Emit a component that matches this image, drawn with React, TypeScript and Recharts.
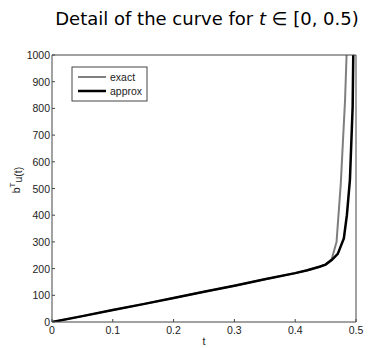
import { LineChart, Line, XAxis, YAxis } from 'recharts';

// t samples and b^T u(t) values
const exactT = [0, 0.05, 0.1, 0.15, 0.2, 0.25, 0.3, 0.35, 0.4, 0.42, 0.44, 0.45, 0.46, 0.468, 0.475, 0.482, 0.4845];
const exactV = [0, 22, 45, 67, 90, 113, 136, 160, 183, 194, 207, 216, 235, 300, 519, 831, 1000];

const approxT = [0, 0.05, 0.1, 0.15, 0.2, 0.25, 0.3, 0.35, 0.4, 0.42, 0.44, 0.45, 0.46, 0.47, 0.48, 0.485, 0.49, 0.4945, 0.4955];
const approxV = [0, 22, 45, 67, 90, 113, 136, 160, 183, 194, 207, 215, 232, 255, 313, 400, 532, 806, 1000];

const xTicks = [0, 0.1, 0.2, 0.3, 0.4, 0.5];
const yTicks = [0, 100, 200, 300, 400, 500, 600, 700, 800, 900, 1000];

const exactData = exactT.map((t, i) => ({ t, v: exactV[i] }));
const approxData = approxT.map((t, i) => ({ t, v: approxV[i] }));

const AXIS = '#444';
const TICK_FONT = { fontFamily: 'Liberation Sans, Arial, sans-serif', fontSize: 10.5, fill: '#222' };

// matlab-style inward ticks, labels drawn by hand
const BottomTick = ({ x, y, payload }: any) => (
  <g>
    <line x1={x} y1={y} x2={x} y2={y - 3} stroke={AXIS} />
    <text x={x} y={y + 12} textAnchor="middle" {...TICK_FONT}>{payload.value}</text>
  </g>
);
const TopTick = ({ x, y }: any) => <line x1={x} y1={y} x2={x} y2={y + 3} stroke={AXIS} />;
const LeftTick = ({ x, y, payload }: any) => (
  <g>
    <line x1={x} y1={y} x2={x + 3} y2={y} stroke={AXIS} />
    <text x={x - 2} y={y + 4} textAnchor="end" {...TICK_FONT}>{payload.value}</text>
  </g>
);
const RightTick = ({ x, y }: any) => <line x1={x} y1={y} x2={x - 3} y2={y} stroke={AXIS} />;

export default function App() {
  return (
    <div style={{ position: 'fixed', left: 0, top: 0, width: 373, height: 348, background: '#fff' }}>
      <div
        style={{
          position: 'absolute', left: 0, width: 414, top: 8, textAlign: 'center',
          fontFamily: 'DejaVu Sans, sans-serif', fontSize: 18, color: '#000', whiteSpace: 'nowrap',
        }}
      >
        Detail of the curve for <i>t</i> ∈ [0, 0.5)
      </div>
      <LineChart width={373} height={348} margin={{ top: 54, right: 16, bottom: 6, left: 22 }} style={{ position: 'absolute', left: 0, top: 0 }}>
        <XAxis
          xAxisId="b" dataKey="t" type="number" domain={[0, 0.5]} ticks={xTicks}
          height={20} tickSize={0} tickMargin={0} tickLine={false} axisLine={{ stroke: AXIS }} tick={<BottomTick />}
          allowDataOverflow
        />
        <XAxis
          xAxisId="top" orientation="top" dataKey="t" type="number" domain={[0, 0.5]} ticks={xTicks}
          height={1} tickSize={0} tickMargin={0} tickLine={false} axisLine={{ stroke: AXIS }} tick={<TopTick />}
        />
        <YAxis
          yAxisId="l" type="number" domain={[0, 1000]} ticks={yTicks} width={30} tickSize={0} tickMargin={0}
          tickLine={false} axisLine={{ stroke: AXIS }} tick={<LeftTick />} allowDataOverflow
        />
        <YAxis
          yAxisId="r" orientation="right" type="number" domain={[0, 1000]} ticks={yTicks} width={1}
          tickSize={0} tickMargin={0} tickLine={false} axisLine={{ stroke: AXIS }} tick={<RightTick />}
        />
        <Line
          xAxisId="b" yAxisId="l" data={exactData} dataKey="v" type="linear" stroke="#7f7f7f"
          strokeWidth={2} dot={false} isAnimationActive={false}
        />
        <Line
          xAxisId="b" yAxisId="l" data={approxData} dataKey="v" type="linear" stroke="#000"
          strokeWidth={2.5} dot={false} isAnimationActive={false}
        />
      </LineChart>
      <svg width={373} height={348} style={{ position: 'absolute', left: 0, top: 0, pointerEvents: 'none' }}>
        {/* legend */}
        <rect x={72} y={67} width={75} height={34} fill="#fff" stroke={AXIS} strokeWidth={1} />
        <line x1={78} y1={77} x2={106} y2={77} stroke="#7f7f7f" strokeWidth={2} />
        <line x1={78} y1={91} x2={106} y2={91} stroke="#000" strokeWidth={2.5} />
        <text x={110} y={81} {...TICK_FONT}>exact</text>
        <text x={110} y={95} {...TICK_FONT}>approx</text>
        {/* axis labels */}
        <text x={204} y={345} textAnchor="middle" {...TICK_FONT}>t</text>
        <text transform="translate(20,180) rotate(-90)" textAnchor="middle" {...TICK_FONT}>
          b<tspan dy={-5} fontSize={8}>T</tspan><tspan dy={7}>u(t)</tspan>
        </text>
      </svg>
    </div>
  );
}
